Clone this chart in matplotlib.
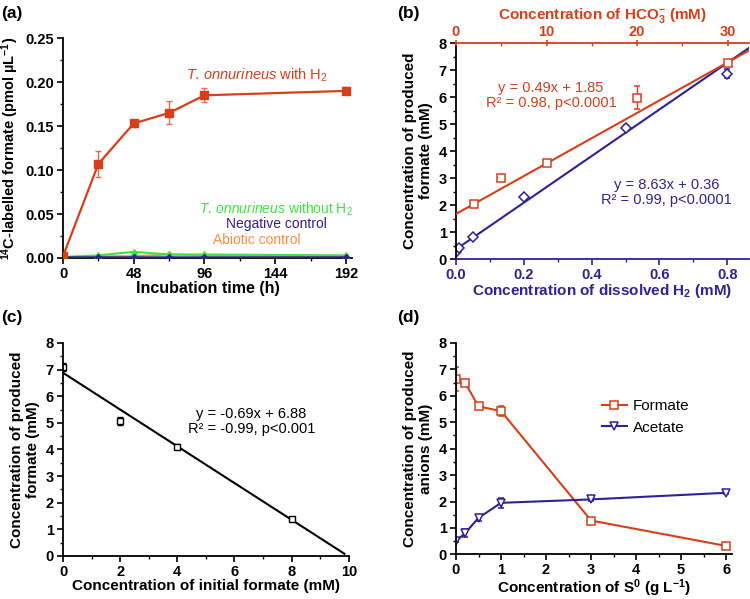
import numpy as np
import matplotlib
matplotlib.use("Agg")
import matplotlib.pyplot as plt
from matplotlib.ticker import MultipleLocator, FormatStrFormatter
from matplotlib.lines import Line2D

plt.rcParams['font.family'] = ['Liberation Sans', 'DejaVu Sans']
plt.rcParams['mathtext.fontset'] = 'custom'
plt.rcParams['mathtext.rm'] = 'Liberation Sans'
plt.rcParams['mathtext.it'] = 'Liberation Sans:italic'
plt.rcParams['mathtext.bf'] = 'Liberation Sans:bold'

# colours
RED = '#D5401A'
GREEN = '#3DE63D'
NAVY = '#2E2296'
ORANGE = '#FF8C3C'

# ---- (a) 14C-labelled formate over time ----
time_h = [0, 24, 48, 72, 96, 192]
with_h2 = [0.002, 0.107, 0.153, 0.165, 0.185, 0.190]
with_h2_err = [0.001, 0.015, 0.004, 0.013, 0.008, 0.004]
without_h2 = [0.001, 0.003, 0.007, 0.004, 0.004, 0.003]
negative = [0.001, 0.001, 0.001, 0.001, 0.001, 0.001]
abiotic = [0.001, 0.002, 0.002, 0.004, 0.003, 0.002]

# ---- (b) formate vs H2 / HCO3- ----
hco3 = [2, 5, 10, 20, 30]
formate_hco3 = [2.05, 3.0, 3.57, 5.98, 7.25]
formate_hco3_err = [0.05, 0.1, 0.05, 0.42, 0.1]
h2 = [0.0, 0.01, 0.05, 0.2, 0.5, 0.8]
formate_h2 = [0.25, 0.4, 0.8, 2.28, 4.87, 6.87]
formate_h2_err = [0.05, 0.05, 0.05, 0.05, 0.1, 0.15]
hco3_fit = (0.187, 1.67)   # slope, intercept as drawn
h2_fit = (8.63, 0.36)

# ---- (c) formate vs initial formate ----
init_formate = [0, 2, 4, 8]
prod_formate = [7.1, 5.08, 4.1, 1.38]
prod_formate_err = [0.15, 0.15, 0.1, 0.05]
c_fit = (-0.69, 6.88)

# ---- (d) anions vs S0 ----
s0 = [0, 0.2, 0.5, 1, 3, 6]
formate_s0 = [6.65, 6.5, 5.6, 5.42, 1.28, 0.32]
formate_s0_err = [0.45, 0.08, 0.05, 0.2, 0.05, 0.03]
acetate_s0 = [0.5, 0.8, 1.38, 1.95, 2.08, 2.33]
acetate_s0_err = [0.05, 0.15, 0.12, 0.2, 0.05, 0.03]

TICK_FS = 10.5
LABEL_FS = 11
NOTE_FS = 10.5


def style(ax):
    ax.spines['top'].set_visible(False)
    ax.spines['right'].set_visible(False)
    for s in ax.spines.values():
        s.set_linewidth(1.3)
    ax.tick_params(which='major', direction='out', length=4, width=1.2,
                   labelsize=TICK_FS, pad=2.5)
    ax.tick_params(which='minor', direction='out', length=2.5, width=1.0)
    for lab in ax.get_xticklabels() + ax.get_yticklabels():
        lab.set_fontweight('bold')


fig = plt.figure(figsize=(7.5, 5.99), dpi=100)

# (a)
ax = fig.add_axes([0.084, 0.5693, 0.385, 0.367])
ax.plot(time_h, abiotic, color=ORANGE, marker='o', ms=3, lw=1.5, zorder=2)
ax.plot(time_h, without_h2, color=GREEN, marker='^', ms=4, lw=1.5, zorder=3)
ax.plot(time_h, negative, color=NAVY, marker='D', ms=3, lw=1.8, zorder=4)
ax.errorbar(time_h, with_h2, yerr=with_h2_err, color=RED, marker='s', ms=5.5,
            lw=1.6, capsize=2.5, elinewidth=1, ecolor='#E07050', zorder=5)
ax.set_xlim(0, 196)
ax.set_ylim(0, 0.25)
ax.xaxis.set_major_locator(MultipleLocator(48))
ax.xaxis.set_minor_locator(MultipleLocator(24))
ax.yaxis.set_major_locator(MultipleLocator(0.05))
ax.yaxis.set_minor_locator(MultipleLocator(0.025))
ax.yaxis.set_major_formatter(FormatStrFormatter('%.2f'))
style(ax)
ax.set_xlabel('Incubation time (h)', fontsize=LABEL_FS + 0.5, fontweight='bold', labelpad=0)
ax.set_ylabel(r'$^{\mathbf{14}}$C-labelled formate (pmol µL$^{\mathbf{-1}}$)',
              fontsize=LABEL_FS - 0.5, fontweight='bold', labelpad=3)
ax.text(131.6, 0.208, r'$\mathit{T.\,onnurineus}$ with H$_2$', color=RED,
        fontsize=NOTE_FS, ha='center', va='center')
ax.text(144.5, 0.0555, r'$\mathit{T.\,onnurineus}$ without H$_2$', color=GREEN,
        fontsize=NOTE_FS - 0.5, ha='center', va='center')
ax.text(145, 0.039, 'Negative control', color=NAVY, fontsize=NOTE_FS - 0.5,
        ha='center', va='center')
ax.text(131.6, 0.021, 'Abiotic control', color=ORANGE, fontsize=NOTE_FS - 0.5,
        ha='center', va='center')
fig.text(0.002, 0.978, '(a)', fontsize=12.5, fontweight='bold', va='center')

# (b)
ax = fig.add_axes([0.608, 0.5676, 0.391, 0.3606])
xb = np.linspace(0, 0.865, 50)
ax.plot(xb, h2_fit[0] * xb + h2_fit[1], color=NAVY, lw=1.5)
ax.errorbar(h2, formate_h2, yerr=formate_h2_err, color=NAVY, marker='D', ms=5,
            mfc='white', mew=1.1, ls='none', capsize=2, elinewidth=1)
ax.set_xlim(0, 0.865)
ax.set_ylim(0, 8)
ax.xaxis.set_major_locator(MultipleLocator(0.2))
ax.xaxis.set_minor_locator(MultipleLocator(0.1))
ax.yaxis.set_major_locator(MultipleLocator(1))
ax.yaxis.set_minor_locator(MultipleLocator(0.5))
style(ax)
ax.spines['bottom'].set_color(NAVY)
ax.tick_params(axis='x', which='both', colors=NAVY)
for lab in ax.get_xticklabels():
    lab.set_color(NAVY)
ax.set_xlabel(r'Concentration of dissolved H$_\mathbf{2}$ (mM)', fontsize=LABEL_FS,
              fontweight='bold', color=NAVY, labelpad=0)
ax.set_ylabel('Concentration of produced\nformate (mM)', fontsize=LABEL_FS,
              fontweight='bold', labelpad=4)
ax.text(0.28, 6.05, 'y = 0.49x + 1.85\nR² = 0.98, p<0.0001', color=RED,
        fontsize=NOTE_FS, ha='center', va='center', linespacing=1.1)
ax.text(0.62, 2.45, 'y = 8.63x + 0.36\nR² = 0.99, p<0.0001', color=NAVY,
        fontsize=NOTE_FS, ha='center', va='center', linespacing=1.1)

axt = ax.twiny()
xt = np.linspace(0, 32.4, 50)
axt.plot(xt, hco3_fit[0] * xt + hco3_fit[1], color=RED, lw=1.5)
axt.errorbar(hco3, formate_hco3, yerr=formate_hco3_err, color=RED, marker='s',
             ms=5.5, mfc='white', mew=1.1, ls='none', capsize=2, elinewidth=1)
axt.set_xlim(0, 32.4)
axt.xaxis.set_major_locator(MultipleLocator(10))
axt.xaxis.set_minor_locator(MultipleLocator(5))
for s in ['left', 'right', 'bottom']:
    axt.spines[s].set_visible(False)
axt.spines['top'].set_color(RED)
axt.spines['top'].set_linewidth(1.3)
axt.tick_params(axis='x', which='major', direction='inout', length=4, width=1.2,
                colors=RED, labelsize=TICK_FS, pad=1)
axt.tick_params(axis='x', which='minor', direction='in', length=2.5, width=1.0,
                colors=RED)
for lab in axt.get_xticklabels():
    lab.set_fontweight('bold')
    lab.set_color(RED)
axt.set_xlabel(r'Concentration of HCO$_\mathbf{3}^{\mathbf{-}}$ (mM)',
               fontsize=LABEL_FS, fontweight='bold', color=RED, labelpad=4)
fig.text(0.529, 0.978, '(b)', fontsize=12.5, fontweight='bold', va='center')

# (c)
ax = fig.add_axes([0.084, 0.0718, 0.381, 0.3556])
xc = np.linspace(0, 9.85, 50)
ax.plot(xc, c_fit[0] * xc + c_fit[1], color='black', lw=1.5)
ax.errorbar(init_formate, prod_formate, yerr=prod_formate_err, color='black',
            marker='s', ms=4, mfc='white', mew=1, ls='none', capsize=2,
            elinewidth=0.9)
ax.set_xlim(0, 10)
ax.set_ylim(0, 8)
ax.xaxis.set_major_locator(MultipleLocator(2))
ax.xaxis.set_minor_locator(MultipleLocator(1))
ax.yaxis.set_major_locator(MultipleLocator(1))
ax.yaxis.set_minor_locator(MultipleLocator(0.5))
style(ax)
ax.set_xlabel('Concentration of initial formate (mM)', fontsize=LABEL_FS,
              fontweight='bold', labelpad=0)
ax.set_ylabel('Concentration of produced\nformate (mM)', fontsize=LABEL_FS,
              fontweight='bold', labelpad=4)
ax.text(6.6, 5.05, 'y = -0.69x + 6.88\nR² = -0.99, p<0.001', color='black',
        fontsize=NOTE_FS, ha='center', va='center', linespacing=1.1)
fig.text(0.002, 0.47, '(c)', fontsize=12.5, fontweight='bold', va='center')

# (d)
ax = fig.add_axes([0.608, 0.0745, 0.368, 0.353])
ax.errorbar(s0, formate_s0, yerr=formate_s0_err, color=RED, marker='s', ms=5.5,
            mfc='white', mew=1.1, lw=1.5, capsize=2, elinewidth=1)
ax.errorbar(s0, acetate_s0, yerr=acetate_s0_err, color=NAVY, marker='v', ms=6,
            mfc='white', mew=1.1, lw=1.5, capsize=2, elinewidth=1)
ax.set_xlim(0, 6.13)
ax.set_ylim(0, 8)
ax.xaxis.set_major_locator(MultipleLocator(1))
ax.xaxis.set_minor_locator(MultipleLocator(0.5))
ax.yaxis.set_major_locator(MultipleLocator(1))
ax.yaxis.set_minor_locator(MultipleLocator(0.5))
style(ax)
ax.set_xlabel(r'Concentration of S$^\mathbf{0}$ (g L$^{\mathbf{-1}}$)', fontsize=LABEL_FS,
              fontweight='bold', labelpad=0)
ax.set_ylabel('Concentration of produced\nanions (mM)', fontsize=LABEL_FS,
              fontweight='bold', labelpad=4)
handles = [Line2D([], [], color=RED, marker='s', ms=5.5, mfc='white', mew=1.1, lw=1.5),
           Line2D([], [], color=NAVY, marker='v', ms=6, mfc='white', mew=1.1, lw=1.5)]
ax.legend(handles, ['Formate', 'Acetate'], loc='upper left',
          bbox_to_anchor=(0.48, 0.8), frameon=False, fontsize=NOTE_FS + 0.5,
          handlelength=1.6, handletextpad=0.4, labelspacing=0.5)
fig.text(0.529, 0.47, '(d)', fontsize=12.5, fontweight='bold', va='center')

fig.savefig('out.png', dpi=100)
